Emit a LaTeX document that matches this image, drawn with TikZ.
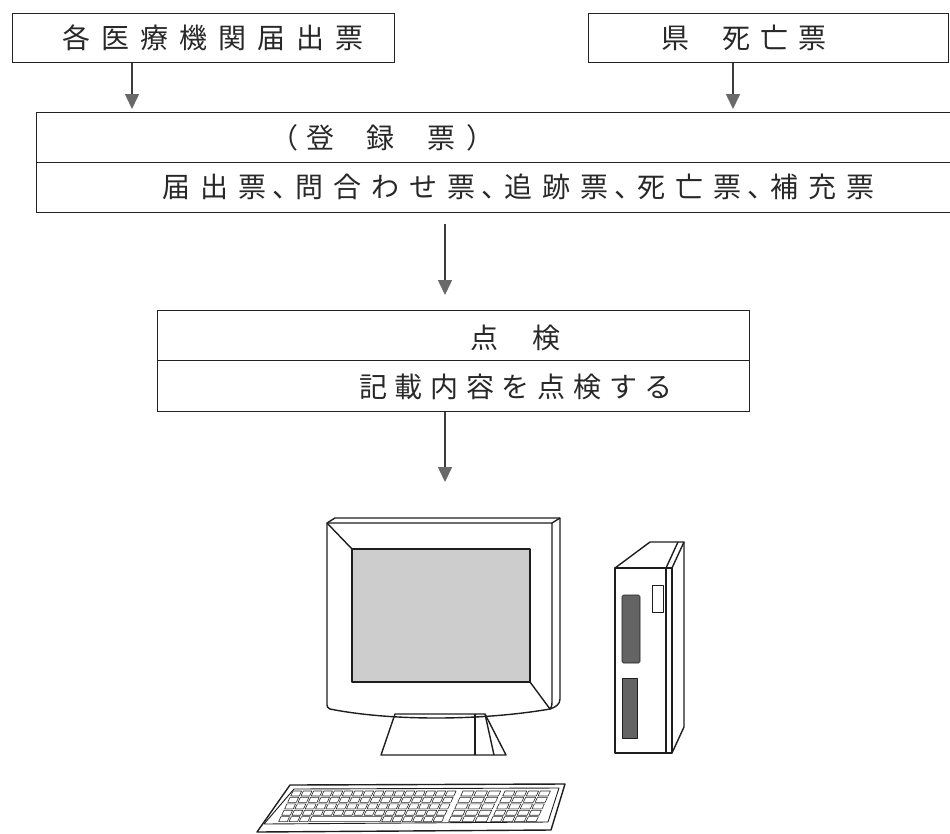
\documentclass[tikz,border=0pt]{standalone}
\usepackage{fontspec}
\usepackage{tikz}
\usetikzlibrary{calc,arrows.meta}
\newfontfamily\jpfont{Noto Sans CJK JP}

% spread the characters of #2 apart by #1
\newcommand\spaced[2]{\def\chargap{#1}\spreadchars#2\relax}
\def\spreadchars#1{\ifx#1\relax\else#1\hspace{\chargap}\expandafter\spreadchars\fi}
% narrow ideographic comma
\newcommand\tk{\hspace{-4pt}、\hspace{-15pt}}

\tikzset{
  frame/.style={draw={rgb, 255:red, 35; green, 35; blue, 35 }, line width=1.3, inner sep=0, anchor=north west},
  lbl/.style={font=\jpfont\fontsize{28}{32}\selectfont, text={rgb, 255:red, 40; green, 40; blue, 40 }, inner sep=0, anchor=west},
  flow/.style={draw={rgb, 255:red, 60; green, 60; blue, 60 }, line width=1.6,
    -{Triangle[length=15pt,width=14pt,color={rgb, 255:red, 105; green, 105; blue, 105 }]}},
  pcline/.style={draw={rgb, 255:red, 30; green, 30; blue, 30 }, line width=1.4, line join=round},
  keycap/.style={draw={rgb, 255:red, 40; green, 40; blue, 40 }, line width=0.6, line join=round}
}

\begin{document}
\begin{tikzpicture}[x=1pt,y=1pt,yscale=-1,xscale=1]
\useasboundingbox (0,0) rectangle (950,833);

%Shape: Rectangle [source boxes]
\node[frame, minimum width=382, minimum height=49] (src1) at (12,13) {};
\node[frame, minimum width=360, minimum height=49] (src2) at (588,13) {};
\node[lbl] (src1txt) at (62,38) {\spaced{11pt}{各医療機関届出票}};
\node[lbl] (src2txt) at (661,38) {県\hspace{33pt}\spaced{10pt}{死亡票}};

%Shape: Rectangle [register]
\node[frame, minimum width=916, minimum height=50] (regtop) at (36,112) {};
\node[frame, minimum width=916, minimum height=50] (regbot) at (36,162) {};
\node[lbl] (regtxt) at (270,138) {（\hspace{8pt}登\hspace{32pt}録\hspace{33pt}票\hspace{11pt}）};
\node[lbl] (formtxt) at (162,187) {\spaced{10pt}{届出票\tk 問合わせ票\tk 追跡票\tk 死亡票\tk 補充票}};

%Shape: Rectangle [check]
\node[frame, minimum width=592, minimum height=50] (chktop) at (157,310) {};
\node[frame, minimum width=592, minimum height=51] (chkbot) at (157,360) {};
\node[lbl] (chktxt) at (470,338) {点\hspace{34pt}検};
\node[lbl] (chkdesc) at (359,387) {\spaced{7.7pt}{記載内容を点検する}};

\coordinate (pc) at (445,482);

%Straight Lines [arrows]
\draw[flow, shorten >=3pt] ([xshift=120]src1.south west) -- ([xshift=120]src1.south west |- regtop.north);
\draw[flow, shorten >=3pt] ([xshift=145]src2.south west) -- ([xshift=145]src2.south west |- regtop.north);
\draw[flow, shorten <=11pt, shorten >=15pt] ([xshift=409]regbot.south west) -- ([xshift=409]regbot.south west |- chktop.north);
\draw[flow] ([xshift=288]chkbot.south west) -- (pc);

%Shape: monitor
\draw[pcline] (327,523) -- (335,518) -- (560,518) -- (560,699) .. controls (560,704) and (556,707) .. (550,709);
\draw[pcline] (552,523) -- (560,518);
\draw[pcline] (327,523) -- (552,523) -- (552,702) .. controls (552,706) and (551,708) .. (550,709) .. controls (480,721) and (390,721) .. (330,709) .. controls (328,708) and (327,707) .. (327,705) -- cycle;
\draw[pcline, fill={rgb, 255:red, 205; green, 205; blue, 205 }] (352,549) rectangle (530,682);
\draw[pcline] (327,523) -- (352,549);
\draw[pcline] (530,682) -- (550,709);
%Shape: stand
\draw[pcline] (395,714) -- (485,714) -- (506,755) -- (381,755) -- cycle;
\draw[pcline] (475,714) -- (475,755);
\draw[pcline] (485,714) -- (494,755);

%Shape: tower
\draw[pcline] (615,568) rectangle (666,753);
\draw[pcline] (666,568) -- (672,568) -- (672,753) -- (666,753);
\draw[pcline] (615,568) -- (650,542) -- (684,542) -- (672,568);
\draw[pcline] (666,568) -- (678,542);
\draw[pcline] (684,542) -- (684,727) -- (672,753);
\draw[pcline, line width=0.9] (652,585) rectangle (663,612);
\draw[pcline, line width=0.6, fill={rgb, 255:red, 100; green, 100; blue, 100 }, rounded corners=1.5] (622,595) rectangle (640,663);
\draw[pcline, line width=0.6, fill={rgb, 255:red, 100; green, 100; blue, 100 }] (622,678) rectangle (637,738);

%Shape: keyboard
\draw[pcline] (290,785) -- (565,784) -- (551,830) -- (257,832) -- cycle;
\draw[pcline, line width=0.9] (294,789) -- (559,788) -- (548,822) -- (264,824) -- cycle;
\foreach \r in {0,...,3}{
  \foreach \c in {0,...,15}{
    \pgfmathsetmacro\ky{791+6.4*\r}
    \pgfmathsetmacro\kx{293+10.3*\c-0.47*6.4*\r}
    \draw[keycap] (\kx,\ky) -- ++(8.6,0) -- ++(-2.3,5) -- ++(-8.6,0) -- cycle;
  }
}
\foreach \c in {0,1,2,10,11,12,13,14,15}{
  \pgfmathsetmacro\kx{293+10.3*\c-0.47*25.6}
  \draw[keycap] (\kx,816.6) -- ++(8.6,0) -- ++(-2.3,5) -- ++(-8.6,0) -- cycle;
}
\draw[keycap] ({293+10.3*3-0.47*25.6},816.6) -- ++(70.4,0) -- ++(-2.3,5) -- ++(-70.4,0) -- cycle;
\foreach \r in {0,...,4}{
  \foreach \c in {0,1,2}{
    \pgfmathsetmacro\ky{791+6.4*\r}
    \pgfmathsetmacro\kx{463+13.2*\c-0.47*6.4*\r}
    \draw[keycap] (\kx,\ky) -- ++(11.3,0) -- ++(-2.3,5) -- ++(-11.3,0) -- cycle;
  }
  \foreach \c in {0,...,3}{
    \pgfmathsetmacro\ky{791+6.4*\r}
    \pgfmathsetmacro\kx{505+11.8*\c-0.47*6.4*\r}
    \draw[keycap] (\kx,\ky) -- ++(10,0) -- ++(-2.3,5) -- ++(-10,0) -- cycle;
  }
}
\end{tikzpicture}
\end{document}
